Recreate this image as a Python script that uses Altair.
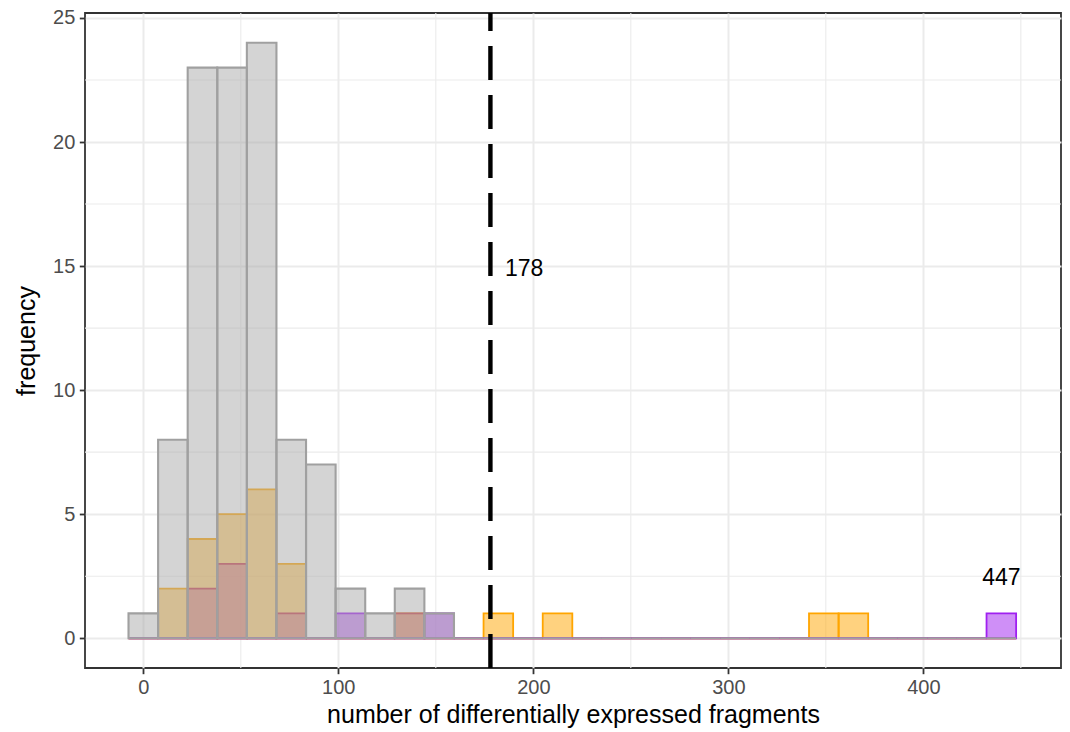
import altair as alt
import pandas as pd

# ---- data ----
n_bins = 30
bin_width = 440 / 29          # histogram bin width (bins centred on 0)
gray_counts   = [1, 8, 23, 23, 24, 8, 7, 2, 1, 2, 1] + [0] * 19
orange_counts = [0, 2, 4, 5, 6, 3, 0, 0, 0, 1, 0, 0, 1, 0, 1] + [0] * 8 + [1, 1] + [0] * 5
red_counts    = [0, 0, 2, 3, 0, 1, 0, 0, 0, 1] + [0] * 20
purple_counts = [0, 0, 0, 0, 0, 0, 0, 1, 0, 0, 1] + [0] * 18 + [1]

threshold = 178
threshold_label = "178"
threshold_label_pos = [185.5, 14.9]
max_label = "447"
max_label_pos = [440, 2.42]

x_ticks = [0, 100, 200, 300, 400]
x_minor = [50, 150, 250, 350, 450]
y_ticks = [0, 5, 10, 15, 20, 25]
y_minor = [2.5, 7.5, 12.5, 17.5, 22.5]

rows = []
for name, counts in [("gray", gray_counts), ("orange", orange_counts),
                     ("red", red_counts), ("purple", purple_counts)]:
    for k, c in enumerate(counts):
        x0 = -bin_width / 2 + k * bin_width
        rows.append({"group": name, "x0": x0, "x1": x0 + bin_width, "count": c, "zero": 0})
df = pd.DataFrame(rows)

xscale = alt.Scale(domain=[-29.9, 470.6], nice=False, zero=False)
yscale = alt.Scale(domain=[-1.2, 25.2], nice=False, zero=False)

FONT = "Liberation Sans"
GRID = "#EBEBEB"

xaxis = alt.Axis(values=x_ticks, title="number of differentially expressed fragments",
                 grid=True, gridColor=GRID, gridWidth=2, labelPadding=3.5,
                 titleY=34)
yaxis = alt.Axis(values=y_ticks, title="frequency", grid=True, gridColor=GRID,
                 gridWidth=2, labelPadding=4.5, titleX=-59, titleY=327.5,
                 titleBaseline="middle")


def X(field):
    return alt.X(field, scale=xscale, axis=xaxis)


def Y(field):
    return alt.Y(field, scale=yscale, axis=yaxis)


minor_x = alt.Chart(pd.DataFrame({"v": x_minor})).mark_rule(
    color=GRID, strokeWidth=1.1).encode(x=X("v:Q"))
minor_y = alt.Chart(pd.DataFrame({"v": y_minor})).mark_rule(
    color=GRID, strokeWidth=1.1).encode(y=Y("v:Q"))


def bars(group, fill, stroke, fill_opacity, stroke_width):
    return alt.Chart(df).transform_filter(alt.datum.group == group).mark_rect(
        fill=fill, fillOpacity=fill_opacity, stroke=stroke, strokeWidth=stroke_width
    ).encode(
        x=X("x0:Q"),
        x2="x1:Q",
        y=Y("zero:Q"),
        y2="count:Q",
    )


orange = bars("orange", "#FFA500", "#FFA500", 0.5, 1.8)
red = bars("red", "#CB5C83", "#C8404F", 0.5, 1.8)
purple = bars("purple", "#A020F0", "#A020F0", 0.5, 1.8)
gray = bars("gray", "#A9A9A9", "#A0A0A0", 0.5, 2.1)

vline = alt.Chart(pd.DataFrame({"t": [threshold]})).mark_rule(
    color="black", strokeWidth=4.4, strokeDash=[34, 15], strokeCap="butt"
).encode(x=X("t:Q"), y=alt.value(655), y2=alt.value(0))

labels = alt.Chart(pd.DataFrame({
    "x": [threshold_label_pos[0]], "y": [threshold_label_pos[1]], "txt": [threshold_label]
})).mark_text(align="left", baseline="middle", fontSize=23, font=FONT, color="black").encode(
    x=X("x:Q"), y=Y("y:Q"), text="txt:N")

labels2 = alt.Chart(pd.DataFrame({
    "x": [max_label_pos[0]], "y": [max_label_pos[1]], "txt": [max_label]
})).mark_text(align="center", baseline="middle", fontSize=23, font=FONT, color="black").encode(
    x=X("x:Q"), y=Y("y:Q"), text="txt:N")

chart = alt.layer(minor_x, minor_y, orange, red, purple, gray, vline, labels, labels2).properties(
    width=976, height=655,
    autosize=alt.AutoSizeParams(type="none"),
    padding={"left": 85, "top": 13, "right": 9, "bottom": 64},
).configure_view(
    stroke="#333333", strokeWidth=1.8
).configure_axis(
    domain=False, tickColor="#333333", tickWidth=1.8, tickSize=5.7,
    labelColor="#4D4D4D", labelFont=FONT, labelFontSize=20,
    titleFont=FONT, titleFontSize=25, titleFontWeight="normal", titleColor="black",
)

chart.save("out.html", embed_options={"renderer": "svg", "actions": False})
